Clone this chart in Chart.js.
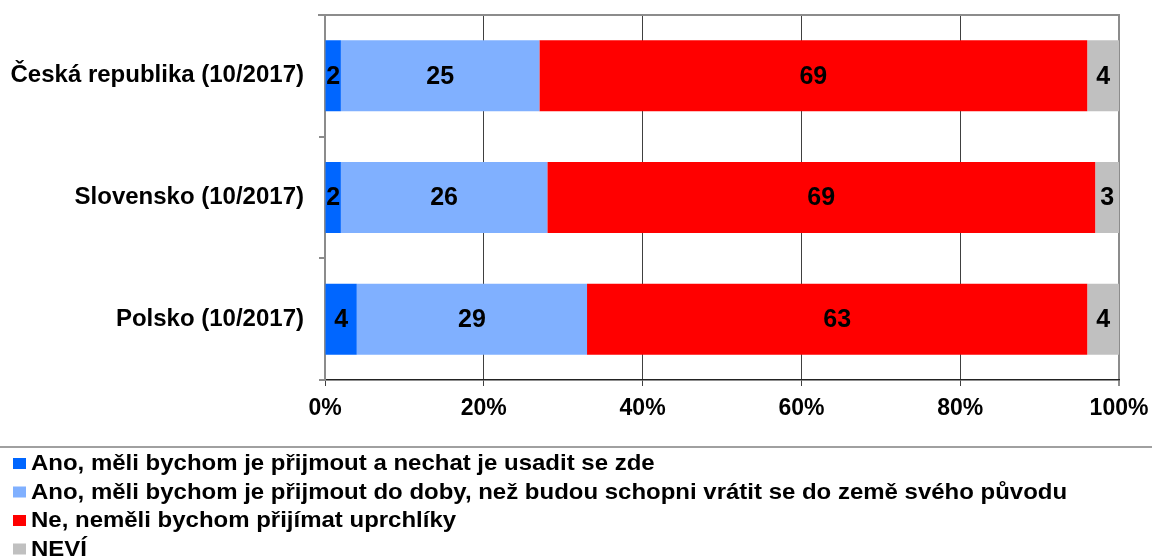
<!DOCTYPE html>
<html>
<head>
<meta charset="utf-8">
<script src="https://cdn.jsdelivr.net/npm/chart.js@4/dist/chart.umd.min.js"></script>
<style>
  html, body { margin: 0; padding: 0; background: #fff; }
  #wrap { width: 1152px; height: 559px; }
</style>
</head>
<body>
<div id="wrap"><canvas id="myChart" width="1152" height="559"></canvas></div>
<script>
'use strict';

// data
var categories = ['Česká republika (10/2017)', 'Slovensko (10/2017)', 'Polsko (10/2017)'];
var seriesNames = [
    'Ano, měli bychom je přijmout a nechat je usadit se zde',
    'Ano, měli bychom je přijmout do doby, než budou schopni vrátit se do země svého původu',
    'Ne, neměli bychom přijímat uprchlíky',
    'NEVÍ'
];
var acceptStay = [2, 2, 4];
var acceptTemp = [25, 26, 29];
var reject = [69, 69, 63];
var dontKnow = [4, 3, 4];
var xTicks = [0, 20, 40, 60, 80, 100];
var colors = ['#0066FF', '#80B0FF', '#FF0000', '#C0C0C0'];

var FONT = '"Liberation Sans", Arial, Helvetica, sans-serif';

// numbers in the middle of each segment
var valueLabels = {
    id: 'valueLabels',
    afterDatasetsDraw: function(chart) {
        var ctx = chart.ctx;
        ctx.save();
        ctx.font = 'bold 25px ' + FONT;
        ctx.fillStyle = '#000';
        ctx.textAlign = 'center';
        ctx.textBaseline = 'middle';
        chart.data.datasets.forEach(function(ds, i) {
            chart.getDatasetMeta(i).data.forEach(function(bar, j) {
                ctx.fillText(ds.data[j], (bar.x + bar.base) / 2, bar.y + 1);
            });
        });
        ctx.restore();
    }
};

// top frame line, separator and legend list
var frameAndLegend = {
    id: 'frameAndLegend',
    beforeDatasetsDraw: function(chart) {
        var ctx = chart.ctx, a = chart.chartArea;
        ctx.save();
        ctx.strokeStyle = '#8c8c8c';
        ctx.lineWidth = 2;
        ctx.beginPath();
        ctx.moveTo(a.left - 7, a.top);
        ctx.lineTo(a.right + 1, a.top);
        ctx.stroke();
        ctx.restore();
    },
    afterDraw: function(chart) {
        var ctx = chart.ctx;
        ctx.save();
        ctx.strokeStyle = '#a0a0a0';
        ctx.lineWidth = 2;
        ctx.beginPath();
        ctx.moveTo(0, 447);
        ctx.lineTo(chart.width, 447);
        ctx.stroke();

        ctx.font = 'bold 22px ' + FONT;
        ctx.textAlign = 'left';
        ctx.textBaseline = 'middle';
        chart.data.datasets.forEach(function(ds, i) {
            var y = 463 + i * 28.5;
            ctx.fillStyle = ds.backgroundColor;
            ctx.fillRect(13, y - 5, 13, 11);
            ctx.fillStyle = '#000';
            // reference text is a little stretched sideways
            ctx.save();
            ctx.translate(31, y + 1);
            ctx.scale(1.09, 1);
            ctx.fillText(ds.label, 0, 0);
            ctx.restore();
        });
        ctx.restore();
    }
};

function initChart() {
    var ctx = document.getElementById('myChart').getContext('2d');
    var values = [acceptStay, acceptTemp, reject, dontKnow];
    var datasets = values.map(function(v, i) {
        return {
            label: seriesNames[i],
            data: v,
            backgroundColor: colors[i],
            borderWidth: 0,
            categoryPercentage: 1.0,
            barPercentage: 0.583
        };
    });

    new Chart(ctx, {
        type: 'bar',
        data: { labels: categories, datasets: datasets },
        plugins: [frameAndLegend, valueLabels],
        options: {
            indexAxis: 'y',
            responsive: false,
            animation: false,
            layout: { padding: { top: 15, right: 33, bottom: 129, left: 0 } },
            plugins: {
                legend: { display: false },
                tooltip: { enabled: false }
            },
            scales: {
                x: {
                    stacked: true,
                    min: 0,
                    max: 100,
                    afterBuildTicks: function(scale) {
                        scale.ticks = xTicks.map(function(t) { return { value: t }; });
                    },
                    afterFit: function(scale) {
                        scale.height = 50;
                        scale.paddingLeft = 0;
                        scale.paddingRight = 0;
                    },
                    ticks: {
                        callback: function(v) { return v + '%'; },
                        font: { family: FONT, size: 23, weight: 'bold' },
                        color: '#000',
                        padding: 9,
                        maxRotation: 0
                    },
                    grid: {
                        color: function(c) { return c.index === xTicks.length - 1 ? '#8c8c8c' : '#404040'; },
                        lineWidth: function(c) { return c.index === xTicks.length - 1 ? 2 : 1; },
                        tickLength: 6
                    },
                    border: { color: '#222', width: 1.5 }
                },
                y: {
                    stacked: true,
                    afterFit: function(scale) {
                        scale.width = 325;
                        scale.paddingTop = 0;
                        scale.paddingBottom = 0;
                    },
                    ticks: {
                        font: { family: FONT, size: 24, weight: 'bold' },
                        color: '#000',
                        padding: 15
                    },
                    grid: {
                        offset: true,
                        drawOnChartArea: false,
                        color: '#8c8c8c',
                        lineWidth: 2,
                        tickLength: 6
                    },
                    border: { color: '#8c8c8c', width: 2 }
                }
            }
        }
    });
}

initChart();
</script>
</body>
</html>
